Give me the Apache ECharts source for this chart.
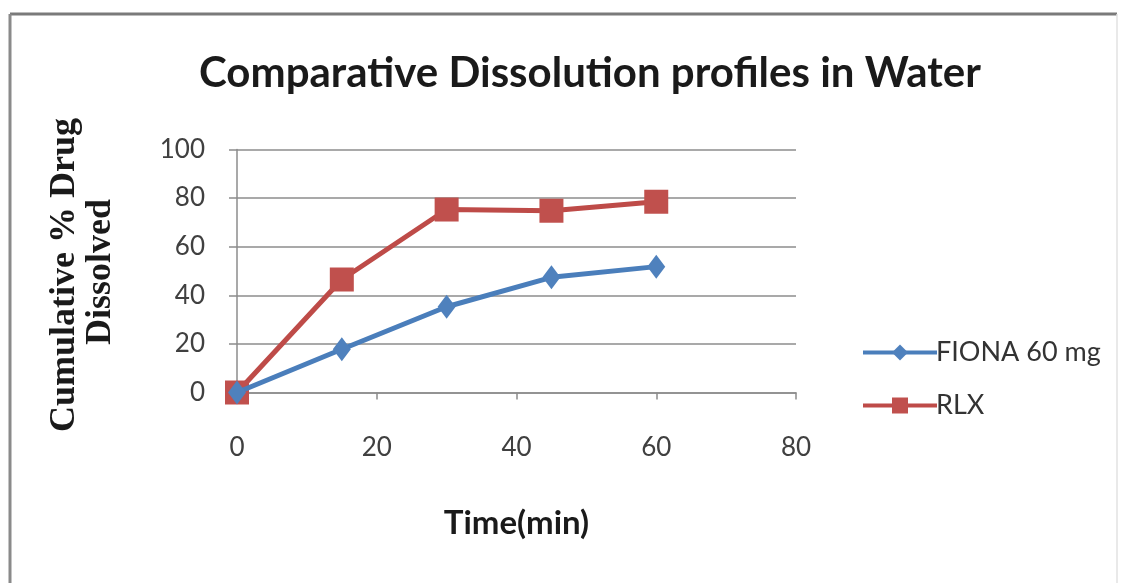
<!DOCTYPE html>
<html>
<head>
<meta charset="utf-8">
<title>Comparative Dissolution profiles in Water</title>
<script src="https://cdn.jsdelivr.net/npm/echarts@6/dist/echarts.min.js"></script>
<style>
  html, body { margin: 0; padding: 0; background: #ffffff; }
  #chart { width: 1121px; height: 583px; }
</style>
</head>
<body>
<div id="chart"></div>
<script>
// Sampling times (min) and cumulative % drug dissolved for each product
const timeMin = [0, 15, 30, 45, 60];
const fionaValues = [0, 17.8, 35.3, 47.4, 51.8];
const rlxValues = [0, 46.5, 75.3, 74.8, 78.5];
const seriesNames = ['FIONA 60 mg', 'RLX'];
const xTicks = { min: 0, max: 80, interval: 20 };
const yTicks = { min: 0, max: 100, interval: 20 };

const titleText = 'Comparative Dissolution profiles in Water';
const xTitle = 'Time(min)';
const yTitleLines = ['Cumulative % Drug', 'Dissolved'];

const pairs = (xs, ys) => xs.map((x, i) => [x, ys[i]]);

const chart = echarts.init(document.getElementById('chart'), null, { renderer: 'canvas' });

const labelFont = { fontFamily: 'Lato', fontSize: 26, color: '#404040' };

chart.setOption({
  animation: false,
  backgroundColor: '#ffffff',
  title: {
    text: titleText,
    left: 194,
    top: 47,
    textStyle: { fontFamily: 'Lato', fontWeight: 'bold', fontSize: 42, color: '#1a1a1a' }
  },
  grid: { left: 237, right: 325, top: 149.5, bottom: 190.5, containLabel: false },
  xAxis: {
    type: 'value',
    min: xTicks.min, max: xTicks.max, interval: xTicks.interval,
    name: xTitle,
    nameLocation: 'middle',
    nameGap: 114,
    nameTextStyle: { fontFamily: 'Lato', fontWeight: 'bold', fontSize: 33, color: '#1a1a1a' },
    axisLine: { show: true, onZero: false, lineStyle: { color: '#8c8c8c', width: 1.5 } },
    axisTick: { show: true, inside: false, length: 7, lineStyle: { color: '#8c8c8c', width: 1.5 } },
    axisLabel: Object.assign({ margin: 42 }, labelFont),
    splitLine: { show: false }
  },
  yAxis: {
    type: 'value',
    min: yTicks.min, max: yTicks.max, interval: yTicks.interval,
    axisLine: { show: true, lineStyle: { color: '#8c8c8c', width: 1.5 } },
    axisTick: { show: true, inside: false, length: 8, lineStyle: { color: '#8c8c8c', width: 1.5 } },
    axisLabel: Object.assign({ margin: 32 }, labelFont),
    splitLine: { show: true, lineStyle: { color: '#8c8c8c', width: 1.5 } }
  },
  legend: {
    orient: 'vertical',
    left: 856,
    top: 334,
    itemWidth: 74,
    itemHeight: 20,
    itemGap: 26,
    lineStyle: { width: 4 },
    textStyle: { fontFamily: 'Lato', fontSize: 27, color: '#333333', padding: [0, 0, 0, -6] },
    data: seriesNames
  },
  graphic: [
    // frame around the chart area
    { type: 'line', shape: { x1: 10, y1: 14, x2: 1117, y2: 14 }, style: { stroke: '#7a7a7a', lineWidth: 3 } },
    { type: 'line', shape: { x1: 10, y1: 14, x2: 10, y2: 583 }, style: { stroke: '#8a8a8a', lineWidth: 3 } },
    { type: 'line', shape: { x1: 1117, y1: 14, x2: 1117, y2: 583 }, style: { stroke: '#e2e2e2', lineWidth: 1.5 } },
    // y-axis title, two rotated lines
    {
      type: 'text', x: 65, y: 275, rotation: Math.PI / 2,
      style: { text: yTitleLines[0], fontFamily: 'Liberation Serif', fontWeight: 'bold', fontSize: 36,
               fill: '#1a1a1a', align: 'center', verticalAlign: 'middle' }
    },
    {
      type: 'text', x: 101, y: 272, rotation: Math.PI / 2,
      style: { text: yTitleLines[1], fontFamily: 'Liberation Serif', fontWeight: 'bold', fontSize: 36,
               fill: '#1a1a1a', align: 'center', verticalAlign: 'middle' }
    }
  ],
  series: [
    {
      name: seriesNames[0],
      type: 'line',
      data: pairs(timeMin, fionaValues),
      symbol: 'diamond',
      symbolSize: [18, 24],
      lineStyle: { color: '#4a7ebb', width: 5 },
      itemStyle: { color: '#4f81bd' },
      z: 3
    },
    {
      name: seriesNames[1],
      type: 'line',
      data: pairs(timeMin, rlxValues),
      symbol: 'rect',
      symbolSize: 24,
      lineStyle: { color: '#be4b48', width: 5 },
      itemStyle: { color: '#c0504d' },
      z: 2
    }
  ]
});
</script>
</body>
</html>
